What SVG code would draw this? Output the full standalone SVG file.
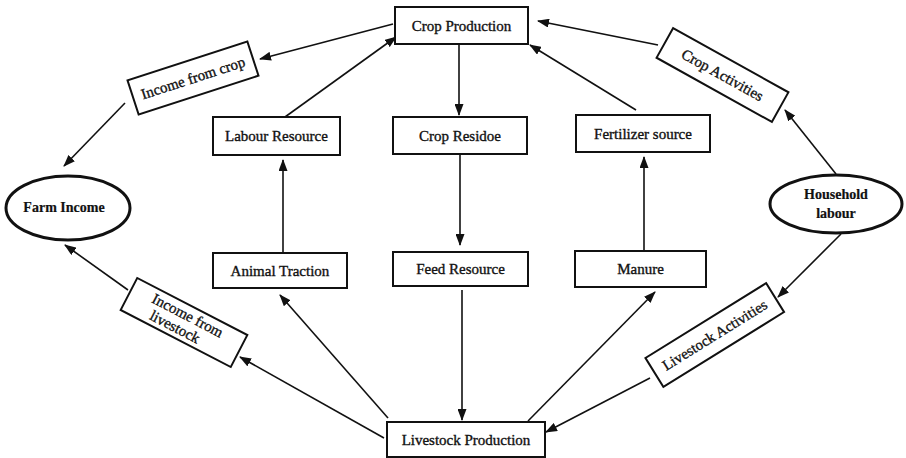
<svg xmlns="http://www.w3.org/2000/svg" width="906" height="458" viewBox="0 0 906 458">
<style>
.box{fill:#fff;stroke:#111;stroke-width:2}
.ell{fill:#fff;stroke:#111;stroke-width:3}
.t{font-family:"Liberation Serif","Times New Roman",serif;font-size:15px;fill:#111;stroke:#111;stroke-width:0.35;text-anchor:middle;dominant-baseline:central}
.b{font-weight:bold;font-size:14px;stroke-width:0.2}
.c{stroke:#111;stroke-width:1.6;fill:none;marker-end:url(#ah)}
</style>
<defs>
<marker id="ah" markerUnits="userSpaceOnUse" markerWidth="12" markerHeight="9" refX="11" refY="4.5" orient="auto">
<path d="M0,0 L12,4.5 L0,9 z" fill="#111"/>
</marker>
</defs>
<rect width="906" height="458" fill="#fff"/>
<g id="connectors">
<line class="c" x1="393" y1="24" x2="260" y2="59"/>
<line class="c" x1="125" y1="103" x2="64" y2="166"/>
<line class="c" x1="285" y1="117" x2="396" y2="37"/>
<line class="c" x1="459" y1="45" x2="459" y2="115"/>
<line class="c" x1="636" y1="110" x2="530" y2="45"/>
<line class="c" x1="836" y1="174" x2="785" y2="110"/>
<line class="c" x1="658" y1="45" x2="538" y2="21"/>
<line class="c" x1="460" y1="155" x2="460" y2="245"/>
<line class="c" x1="283" y1="252" x2="283" y2="160"/>
<line class="c" x1="644" y1="250" x2="644" y2="157"/>
<line class="c" x1="462" y1="290" x2="462" y2="420"/>
<line class="c" x1="528" y1="421" x2="655" y2="292"/>
<line class="c" x1="388" y1="418" x2="280" y2="295"/>
<line class="c" x1="384" y1="438" x2="240" y2="357"/>
<line class="c" x1="128" y1="290" x2="65" y2="245"/>
<line class="c" x1="841" y1="234" x2="778" y2="297"/>
<line class="c" x1="650" y1="378" x2="546" y2="432"/>
</g>
<g id="crop-production"><rect class="box" x="395" y="7" width="133" height="37"/><text class="t" x="461.5" y="26">Crop Production</text></g>
<g id="income-from-crop" transform="translate(193,78) rotate(-18)"><rect class="box" x="-63" y="-18" width="126" height="36"/><text class="t" x="0" y="0">Income from crop</text></g>
<g id="crop-activities" transform="translate(722.5,75) rotate(29.1)"><rect class="box" x="-66" y="-17" width="132" height="34"/><text class="t" x="0" y="0">Crop Activities</text></g>
<g id="labour-resource"><rect class="box" x="213" y="117" width="127" height="38"/><text class="t" x="276.5" y="136">Labour Resource</text></g>
<g id="crop-residue"><rect class="box" x="393" y="117" width="134" height="37"/><text class="t" x="460" y="135.5">Crop Residoe</text></g>
<g id="fertilizer-source"><rect class="box" x="576" y="115" width="134" height="37"/><text class="t" x="643" y="133.5">Fertilizer source</text></g>
<g id="farm-income"><ellipse class="ell" cx="68" cy="208" rx="62" ry="32"/><text class="t b" x="64" y="207">Farm Income</text></g>
<g id="household-labour"><ellipse class="ell" cx="836" cy="204" rx="66" ry="29"/><text class="t b" x="836" y="194">Household</text><text class="t b" x="836" y="213">labour</text></g>
<g id="animal-traction"><rect class="box" x="213" y="253" width="134" height="35"/><text class="t" x="280" y="270.5">Animal Traction</text></g>
<g id="feed-resource"><rect class="box" x="393" y="252" width="135" height="34"/><text class="t" x="460.5" y="269">Feed Resource</text></g>
<g id="manure"><rect class="box" x="575" y="251" width="131" height="36"/><text class="t" x="640.5" y="269">Manure</text></g>
<g id="income-from-livestock" transform="translate(184,322.5) rotate(27.4)"><rect class="box" x="-62" y="-18" width="124" height="36"/><text class="t" x="0" y="-8">Income from</text><text class="t" x="-6" y="8">livestock</text></g>
<g id="livestock-activities" transform="translate(714.75,335) rotate(-31.8)"><rect class="box" x="-71" y="-17" width="142" height="34"/><text class="t" x="0" y="0">Livestock Activities</text></g>
<g id="livestock-production"><rect class="box" x="387" y="422" width="158" height="35"/><text class="t" x="466" y="439.5">Livestock Production</text></g>
</svg>
